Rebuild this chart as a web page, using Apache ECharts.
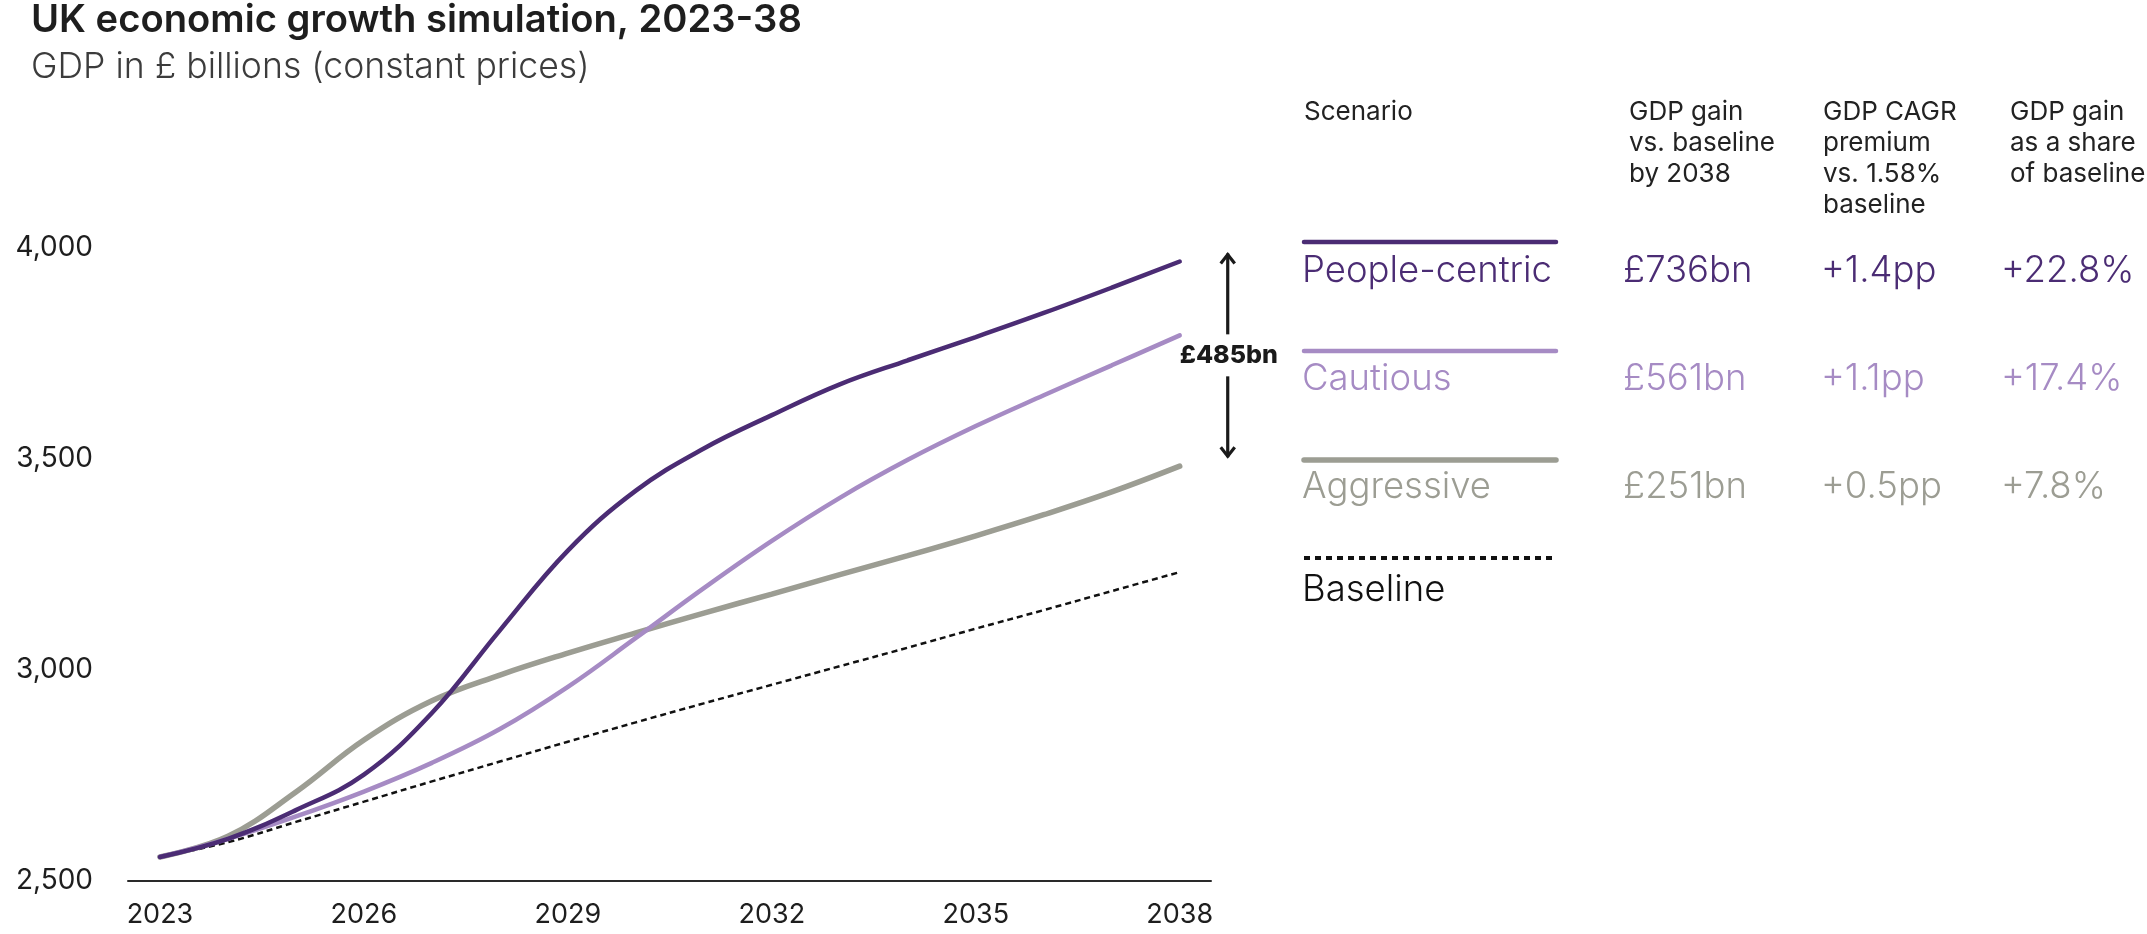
<!DOCTYPE html>
<html>
<head>
<meta charset="utf-8">
<title>UK economic growth simulation, 2023-38</title>
<script src="https://cdn.jsdelivr.net/npm/echarts@6/dist/echarts.min.js"></script>
<style>
  html, body { margin: 0; padding: 0; background: #ffffff; }
  #chart { width: 2147px; height: 934px; }
</style>
</head>
<body>
<div id="chart"></div>
<script>
// GDP in £ billions (constant prices), one value per year
const years = [2023, 2024, 2025, 2026, 2027, 2028, 2029, 2030, 2031, 2032, 2033, 2034, 2035, 2036, 2037, 2038];
const peopleCentric = [2557, 2600, 2668, 2752, 2898, 3094, 3283, 3425, 3525, 3604, 3677, 3734, 3789, 3846, 3906, 3968];
const cautious      = [2557, 2600, 2653, 2712, 2780, 2860, 2960, 3076, 3194, 3306, 3408, 3498, 3578, 3651, 3722, 3793];
const aggressive    = [2557, 2606, 2711, 2834, 2927, 2988, 3040, 3088, 3135, 3180, 3226, 3271, 3318, 3368, 3422, 3483];
const baseline      = [2557, 2592, 2640, 2688, 2736, 2783, 2830, 2876, 2921, 2965, 3009, 3053, 3098, 3142, 3187, 3232];

// Axis ticks
const xTickYears = [2023, 2026, 2029, 2032, 2035, 2038];
const yTicks = [2500, 3000, 3500, 4000];

// Side table
const scenarioNames = ['People-centric', 'Cautious', 'Aggressive'];
const gainVsBaseline = ['£736bn', '£561bn', '£251bn'];
const cagrPremium = ['+1.4pp', '+1.1pp', '+0.5pp'];
const shareOfBaseline = ['+22.8%', '+17.4%', '+7.8%'];
const baselineName = 'Baseline';
const tableHeaders = [
  ['Scenario'],
  ['GDP gain', 'vs. baseline', 'by 2038'],
  ['GDP CAGR', 'premium', 'vs. 1.58%', 'baseline'],
  ['GDP gain', 'as a share', 'of baseline']
];

const titleText = 'UK economic growth simulation, 2023-38';
const subtitleText = 'GDP in £ billions (constant prices)';

// Styling
const COLORS = { people: '#4b2c74', cautious: '#a68bc4', aggressive: '#9c9d93', baseline: '#111111' };
const FONT = 'Inter, "Noto Sans", Roboto, sans-serif';

const pairs = arr => years.map((y, i) => [y, arr[i]]);

function lineSeries(name, values, color, width, z, dashed) {
  return {
    type: 'line',
    name: name,
    data: pairs(values),
    smooth: 0.4,
    showSymbol: false,
    symbol: 'none',
    z: z,
    lineStyle: dashed
      ? { color: color, width: width, type: [6, 4], cap: 'butt' }
      : { color: color, width: width, cap: 'round' },
    emphasis: { disabled: true }
  };
}

// Table graphics (text and legend swatches)
const graphics = [];
function textAt(text, x, yCenter, size, color, weight) {
  graphics.push({
    type: 'text', silent: true,
    style: { text: text, x: x, y: yCenter, font: `${weight} ${size}px ${FONT}`, fill: color, align: 'left', verticalAlign: 'middle' }
  });
}

textAt(titleText, 31, 21, 38.2, '#1e1e1e', 600);
textAt(subtitleText, 31, 67, 35.6, '#3c3c3c', 300);

const colX = [1304, 1629, 1823, 2010];
tableHeaders.forEach((lines, c) => {
  lines.forEach((ln, r) => textAt(ln, colX[c], 112 + r * 31, 26, '#222222', 400));
});

const rowColors = [COLORS.people, COLORS.cautious, COLORS.aggressive];
const rowWidths = [4.5, 4.5, 5.5];
scenarioNames.forEach((name, i) => {
  const lineY = 242 + i * 109;
  const textY = 271 + i * 108;
  graphics.push({
    type: 'line', silent: true,
    shape: { x1: 1304, y1: lineY, x2: 1556, y2: lineY },
    style: { stroke: rowColors[i], lineWidth: rowWidths[i], lineCap: 'round' }
  });
  textAt(name, 1302, textY, 36.5, rowColors[i], 300);
  textAt(gainVsBaseline[i], 1623, textY, 36.5, rowColors[i], 300);
  textAt(cagrPremium[i], 1821, textY, 36.5, rowColors[i], 300);
  textAt(shareOfBaseline[i], 2001, textY, 36.5, rowColors[i], 300);
});
graphics.push({
  type: 'line', silent: true,
  shape: { x1: 1304, y1: 558, x2: 1554, y2: 558 },
  style: { stroke: COLORS.baseline, lineWidth: 4, lineDash: [6, 5] }
});
textAt(baselineName, 1302, 590, 36.5, '#111111', 300);

// Gap between the two top scenarios at the final year, drawn as a double arrow
const gapSeries = {
  type: 'custom',
  clip: false,
  silent: true,
  z: 10,
  data: [[years[years.length - 1], peopleCentric[peopleCentric.length - 1], aggressive[aggressive.length - 1]]],
  renderItem: function (params, api) {
    const top = api.coord([api.value(0), api.value(1)]);
    const bot = api.coord([api.value(0), api.value(2)]);
    const x = top[0] + 48;
    const y1 = top[1] - 9;
    const y2 = bot[1] - 8;
    const mid = (y1 + y2) / 2;
    const gap = Math.round(api.value(1) - api.value(2));
    const stroke = { stroke: '#1a1a1a', lineWidth: 3.2, fill: null, lineJoin: 'miter', lineCap: 'butt' };
    return {
      type: 'group',
      children: [
        { type: 'line', shape: { x1: x, y1: y1 + 1, x2: x, y2: mid - 21 }, style: stroke },
        { type: 'line', shape: { x1: x, y1: mid + 21, x2: x, y2: y2 - 1 }, style: stroke },
        { type: 'polyline', shape: { points: [[x - 7, y1 + 11], [x, y1 + 2], [x + 7, y1 + 11]] }, style: stroke },
        { type: 'polyline', shape: { points: [[x - 7, y2 - 11], [x, y2 - 2], [x + 7, y2 - 11]] }, style: stroke },
        {
          type: 'text',
          style: {
            text: '£' + gap + 'bn', x: x + 1, y: mid,
            font: `800 25px ${FONT}`, fill: '#1a1a1a', align: 'center', verticalAlign: 'middle'
          }
        }
      ]
    };
  }
};

const chart = echarts.init(document.getElementById('chart'), null, { renderer: 'canvas' });
chart.setOption({
  animation: false,
  backgroundColor: '#ffffff',
  grid: { left: 128, right: 936, top: 248, bottom: 53, containLabel: false },
  xAxis: {
    type: 'value',
    min: 2022.53,
    max: 2038.46,
    axisLine: { show: true, lineStyle: { color: '#2a2a2a', width: 2 } },
    axisTick: { show: false },
    splitLine: { show: false },
    axisLabel: {
      customValues: xTickYears,
      formatter: v => String(v),
      margin: 20,
      color: '#1e1e1e',
      fontFamily: FONT,
      fontSize: 27,
      fontWeight: 400
    }
  },
  yAxis: {
    type: 'value',
    min: yTicks[0],
    max: yTicks[yTicks.length - 1],
    interval: 500,
    axisLine: { show: false },
    axisTick: { show: false },
    splitLine: { show: false },
    axisLabel: {
      formatter: v => v.toLocaleString('en-US'),
      margin: 35,
      color: '#1e1e1e',
      fontFamily: FONT,
      fontSize: 28,
      fontWeight: 400
    }
  },
  series: [
    lineSeries('Baseline', baseline, COLORS.baseline, 2.5, 1, true),
    lineSeries('Aggressive', aggressive, COLORS.aggressive, 5.5, 2, false),
    lineSeries('Cautious', cautious, COLORS.cautious, 4.5, 3, false),
    lineSeries('People-centric', peopleCentric, COLORS.people, 4.5, 4, false),
    gapSeries
  ],
  graphic: graphics
});
</script>
</body>
</html>
